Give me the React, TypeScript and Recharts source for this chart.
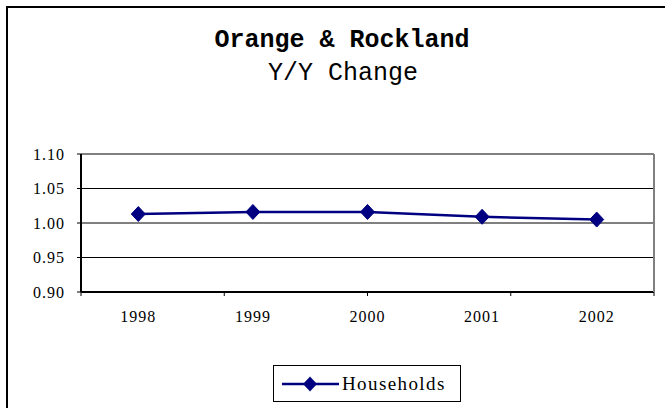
import { CartesianGrid, Legend, Line, LineChart, XAxis, YAxis } from "recharts";

const years = ["1998", "1999", "2000", "2001", "2002"];
const households = [1.013, 1.016, 1.016, 1.009, 1.005];
const yTicks = [0.9, 0.95, 1.0, 1.05, 1.1];
const bandEdges = [0, 1, 2, 3, 4, 5];

const data = years.map((year, i) => ({ year, households: households[i] }));

const NAVY = "#000080";
const SERIF = "'Liberation Serif', 'Times New Roman', serif";
const MONO = "'Liberation Mono', 'Courier New', monospace";

function Diamond(props: any) {
  const { cx, cy } = props;
  if (cx == null || cy == null) return null;
  return (
    <polygon
      points={`${cx},${cy - 7.5} ${cx + 7},${cy} ${cx},${cy + 7.5} ${cx - 7},${cy}`}
      fill={NAVY}
      stroke={NAVY}
    />
  );
}

function LegendBox() {
  return (
    <div
      style={{
        width: 188,
        height: 37,
        border: "1px solid #000",
        background: "#fff",
        display: "flex",
        alignItems: "center",
        boxSizing: "border-box",
      }}
    >
      <svg width={68} height={20} style={{ flex: "none" }}>
        <line x1={8} y1={10} x2={65} y2={10} stroke={NAVY} strokeWidth={2.5} />
        <polygon points="36,2.5 43,10 36,17.5 29,10" fill={NAVY} />
      </svg>
      <span style={{ fontFamily: SERIF, fontSize: 19, letterSpacing: 1.4, color: "#000" }}>Households</span>
    </div>
  );
}

export default function App() {
  return (
    <div
      style={{
        position: "absolute",
        left: 0,
        top: 0,
        width: 665,
        height: 408,
        overflow: "hidden",
        background: "#fff",
      }}
    >
      <div
        style={{
          position: "absolute",
          left: 6,
          top: 6,
          width: 800,
          height: 800,
          border: "2px solid #000",
        }}
      />
      <div
        style={{
          position: "absolute",
          left: 0,
          width: 684,
          top: 25.5,
          textAlign: "center",
          fontFamily: MONO,
          fontSize: 25,
          fontWeight: "bold",
          lineHeight: "30px",
          color: "#000",
        }}
      >
        Orange &amp; Rockland
      </div>
      <div
        style={{
          position: "absolute",
          left: 0,
          width: 686,
          top: 59,
          textAlign: "center",
          fontFamily: MONO,
          fontSize: 25,
          lineHeight: "30px",
          color: "#000",
        }}
      >
        Y/Y Change
      </div>
      <div style={{ position: "absolute", left: 0, top: 0 }}>
        <LineChart width={665} height={408} data={data} margin={{ top: 153, right: 10, bottom: 85, left: 0 }}>
          <CartesianGrid xAxisId="b" horizontal vertical={false} stroke="#000" strokeWidth={1} />
          {/* tick marks sit between the categories, Excel style */}
          <XAxis
            xAxisId="a"
            type="number"
            domain={[0, 5]}
            ticks={bandEdges}
            height={1}
            tickFormatter={() => ""}
            tickSize={4}
            tickLine={{ stroke: "#000", strokeWidth: 1 }}
            axisLine={{ stroke: "#000", strokeWidth: 2 }}
            allowDataOverflow
          />
          <XAxis
            xAxisId="b"
            dataKey="year"
            scale="band"
            height={30}
            tickLine={false}
            axisLine={false}
            tickSize={0}
            tickMargin={18}
            tick={{ fill: "#000", fontFamily: SERIF, fontSize: 16, letterSpacing: 1 }}
          />
          <XAxis
            xAxisId="top"
            orientation="top"
            dataKey="year"
            scale="band"
            height={1}
            tick={false}
            tickLine={false}
            axisLine={{ stroke: "#808080", strokeWidth: 2 }}
          />
          <YAxis
            domain={[0.9, 1.1]}
            ticks={yTicks}
            width={81}
            tickFormatter={(v: number) => v.toFixed(2)}
            tickSize={4}
            tickMargin={12}
            tickLine={{ stroke: "#000" }}
            axisLine={{ stroke: "#000", strokeWidth: 2 }}
            tick={{ fill: "#000", fontFamily: SERIF, fontSize: 16, letterSpacing: 1 }}
            allowDataOverflow
          />
          <YAxis
            yAxisId="right"
            orientation="right"
            domain={[0.9, 1.1]}
            width={1}
            tick={false}
            tickLine={false}
            axisLine={{ stroke: "#808080", strokeWidth: 2 }}
          />
          <Legend
            layout="horizontal"
            verticalAlign="middle"
            align="center"
            wrapperStyle={{ position: "absolute", left: 273, top: 365, width: 188, height: 37 }}
            content={() => <LegendBox />}
          />
          <Line
            xAxisId="b"
            dataKey="households"
            name="Households"
            stroke={NAVY}
            strokeWidth={2.5}
            dot={<Diamond />}
            activeDot={false}
            isAnimationActive={false}
          />
        </LineChart>
      </div>
    </div>
  );
}
